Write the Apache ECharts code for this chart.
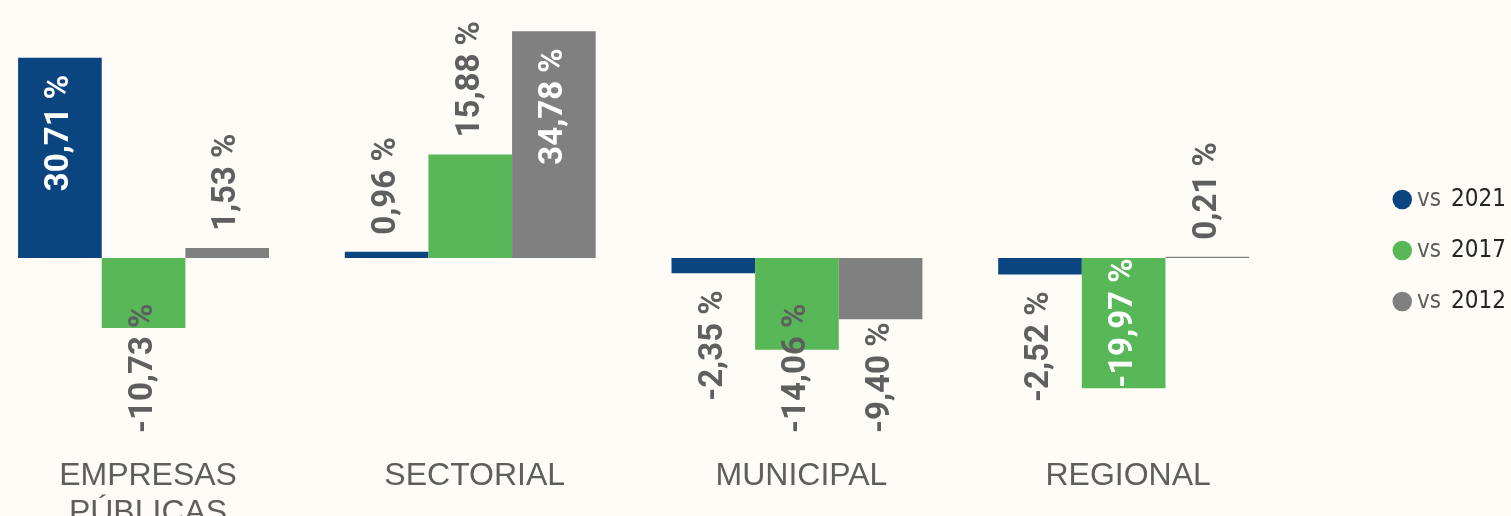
<!DOCTYPE html>
<html>
<head>
<meta charset="utf-8">
<script src="https://cdn.jsdelivr.net/npm/echarts@6/dist/echarts.min.js"></script>
<style>
  html, body { margin: 0; padding: 0; background: #fffcf7; }
  #chart { width: 1511px; height: 516px; }
</style>
</head>
<body>
<div id="chart"></div>
<script>
// ---- data ----
const categories = ['EMPRESAS\nPÚBLICAS', 'SECTORIAL', 'MUNICIPAL', 'REGIONAL'];
const seriesNames = ['vs 2021', 'vs 2017', 'vs 2012'];
const vs2021 = [30.71, 0.96, -2.35, -2.52];
const vs2017 = [-10.73, 15.88, -14.06, -19.97];
const vs2012 = [1.53, 34.78, -9.40, 0.21];

// ---- styling / layout ----
const seriesData = [vs2021, vs2017, vs2012];
const colors = ['#0a4580', '#58b858', '#808080'];
const Y_MIN = -25, Y_MAX = 35;
const GRID_TOP = 29.8, GRID_H = 391.2;
const PX_PER_UNIT = GRID_H / (Y_MAX - Y_MIN);
const LABEL_LIMIT = 433;
const GAP = 17;
const LABEL_FAMILY = 'Roboto, "Liberation Sans", Arial, sans-serif';
const LABEL_SIZE = 33;

function fmt(v) { return v.toFixed(2).replace('.', ',') + ' %'; }

const ctx = document.createElement('canvas').getContext('2d');
ctx.font = 'bold ' + LABEL_SIZE + 'px ' + LABEL_FAMILY;
const insideFlags = seriesData.map(arr => arr.map(v => {
  const len = ctx.measureText(fmt(v)).width;
  return Math.abs(v) * PX_PER_UNIT >= len;
}));

const chart = echarts.init(document.getElementById('chart'), null, { renderer: 'canvas' });

const series = seriesData.map((arr, s) => ({
  name: seriesNames[s],
  type: 'bar',
  barGap: 0,
  barCategoryGap: '23.2%',
  itemStyle: { color: colors[s] },
  data: arr.map((v, d) => ({
    value: v,
    label: { color: insideFlags[s][d] ? '#ffffff' : '#5f5f5f' }
  })),
  label: {
    show: true,
    rotate: 90,
    fontFamily: LABEL_FAMILY,
    fontWeight: 'bold',
    fontSize: LABEL_SIZE,
    formatter: p => fmt(p.value)
  },
  labelLayout: function (params) {
    const sI = params.seriesIndex, dI = params.dataIndex;
    const v = seriesData[sI][dI];
    const inside = insideFlags[sI][dI];
    const r = params.rect, lr = params.labelRect;
    const len = lr.height;
    const cx = r.x + r.width / 2;
    const top = r.y, bottom = r.y + r.height, barLen = r.height;
    if (v >= 0) {
      if (inside) {
        const pad = Math.min(GAP, (barLen - len) / 2);
        return { x: cx, y: top + pad, align: 'right', verticalAlign: 'middle' };
      }
      return { x: cx, y: top - GAP, align: 'left', verticalAlign: 'middle' };
    } else {
      if (inside) {
        const pad = Math.min(GAP, (barLen - len) / 2);
        return { x: cx, y: bottom - pad, align: 'left', verticalAlign: 'middle' };
      }
      const y = Math.min(bottom + GAP + len, LABEL_LIMIT);
      return { x: cx, y: y, align: 'left', verticalAlign: 'middle' };
    }
  }
}));

const option = {
  backgroundColor: '#fffcf7',
  animation: false,
  grid: {
    left: -19.8,
    width: 1306.8,
    top: GRID_TOP,
    height: GRID_H,
    containLabel: false,
    outerBoundsMode: 'none'
  },
  legend: {
    orient: 'vertical',
    left: 1387.5,
    top: 182.5,
    icon: 'circle',
    itemWidth: 19.5,
    itemHeight: 19.5,
    itemGap: 27,
    data: seriesNames,
    formatter: name => {
      const parts = name.split(' ');
      return '{a|' + parts[0] + '}{b|' + parts[1] + '}';
    },
    textStyle: {
      rich: {
        a: { fontFamily: '"DejaVu Sans Condensed", "DejaVu Sans", sans-serif', fontSize: 24, color: '#605e5c', lineHeight: 20, padding: [0, 10, 0, 0] },
        b: { fontFamily: '"DejaVu Sans Condensed", "DejaVu Sans", sans-serif', fontSize: 24, color: '#252423', lineHeight: 20 }
      }
    }
  },
  xAxis: {
    type: 'category',
    data: categories,
    axisLine: { show: false },
    axisTick: { show: false },
    splitLine: { show: false },
    axisLabel: {
      interval: 0,
      margin: 37,
      padding: [0, 0, 0, 9],
      fontFamily: '"Liberation Sans", Arial, sans-serif',
      fontSize: 32,
      lineHeight: 37,
      color: '#605e5c'
    }
  },
  yAxis: {
    type: 'value',
    min: Y_MIN,
    max: Y_MAX,
    show: false,
    splitLine: { show: false }
  },
  series: series
};

chart.setOption(option);
</script>
</body>
</html>
